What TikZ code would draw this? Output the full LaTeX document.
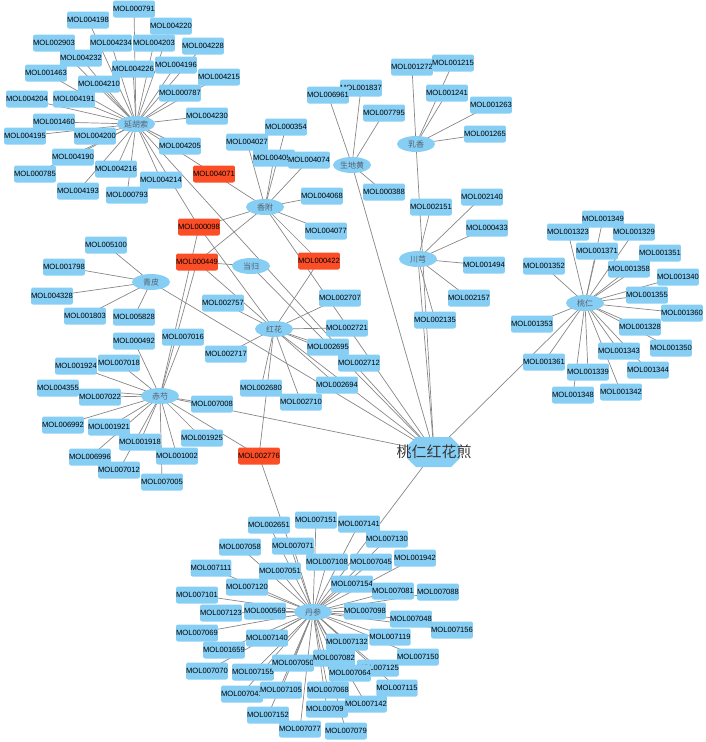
\documentclass[tikz,border=0pt]{standalone}
\usepackage{fontspec}
\setmainfont{Liberation Sans}
\newfontfamily\cjk{Noto Sans CJK SC}
\usetikzlibrary{shapes.geometric}
\definecolor{nodeblue}{RGB}{135,206,245}
\definecolor{nodered}{RGB}{252,78,38}
\definecolor{edgegray}{RGB}{135,135,135}
\definecolor{herbtext}{RGB}{85,95,105}
\pgfdeclarelayer{edgelayer}
\pgfsetlayers{edgelayer,main}
\begin{document}
\begin{tikzpicture}[x=1pt,y=-1pt,
  mol/.style={rectangle,rounded corners=2pt,fill=nodeblue,minimum width=38.5pt,minimum height=17pt,inner sep=0pt,font=\fontsize{7.6}{8}\selectfont,text=black},
  redmol/.style={mol,fill=nodered},
  herb/.style={ellipse,fill=nodeblue,minimum width=38pt,minimum height=16pt,inner sep=0pt,font=\cjk\fontsize{8}{9}\selectfont,text=herbtext},
  edge/.style={draw=edgegray,line width=0.7pt}]
\useasboundingbox (0,0) rectangle (706,742);

% herbs
\node[herb] (yhs) at (136,124) {延胡索};
\node[herb] (xf)  at (265,207) {香附};
\node[herb] (sdh) at (352,165) {生地黄};
\node[herb] (rx)  at (416,144) {乳香};
\node[herb] (cx)  at (418,259) {川芎};
\node[herb] (dg)  at (251,266) {当归};
\node[herb] (qp)  at (151,282) {青皮};
\node[herb] (hh)  at (274,329) {红花};
\node[herb] (cs)  at (160,396) {赤芍};
\node[herb] (tr)  at (585,303) {桃仁};
\node[herb] (ds)  at (313,612) {丹参};

% formula
\fill[nodeblue] (416,437) -- (451,437) -- (460,446) -- (460,458) -- (451,467) -- (416,467) -- (407,458) -- (407,446) -- cycle;
\node[inner sep=0pt,font=\cjk\fontsize{15}{16}\selectfont,text={rgb,255:red,55;green,55;blue,55}] (F) at (434,452) {桃仁红花煎};

% blue compounds
\foreach \i/\x/\y in {
  000791/134/9, 004198/88/20, 004220/171/26, 002903/54/43, 004234/111/43, 004203/154/43,
  004228/203/46, 004232/81/58, 004226/133/69, 004196/176/65, 001463/46/73, 004215/219/77,
  004210/99/84, 000787/180/93, 004204/27/99, 004191/74/99, 004230/207/116, 001460/54/122,
  004195/25/136, 004200/95/136, 004205/180/146, 004190/73/157, 004216/116/169, 000785/35/174,
  004214/161/180, 004193/78/191, 000793/127/195,
  000354/286/127, 004027/247/142}
  {\node[mol] (m\i) at (\x,\y) {MOL\i};}
\node[mol] (m00405x) at (274,158) {MOL00405\phantom{1}};
\foreach \i/\x/\y in {
  004074/309/160, 004068/322/196, 004077/326/231,
  001837/361/88, 006961/328/95, 007795/384/113, 000388/384/192,
  001272/412/67, 001215/453/63, 001241/447/93, 001263/491/105, 001265/485/134,
  002151/431/207, 002140/482/197, 000433/487/228, 001494/484/265, 002157/469/298, 002135/435/320,
  005100/106/245, 001798/64/267, 004328/52/296, 001803/85/316, 005828/134/317,
  002757/223/303, 002707/340/298, 002721/347/328, 002695/328/347, 002717/226/354,
  002712/359/363, 002680/261/388, 002694/337/385, 002710/301/402,
  000492/134/341, 007016/183/337, 001924/76/366, 007018/119/363, 004355/58/388,
  007022/100/397, 007008/212/404, 006992/63/425, 001921/109/427, 001918/140/442,
  001925/202/438, 006996/90/457, 001002/177/456, 007012/119/470, 007005/162/482,
  001349/603/219, 001323/568/232, 001329/634/232, 001371/597/251, 001351/660/253,
  001352/544/266, 001358/629/269, 001340/678/277, 001355/647/295, 001360/682/313,
  001353/532/324, 001328/640/327, 001350/671/348, 001343/619/351, 001361/544/362,
  001339/588/372, 001344/648/370, 001348/573/395, 001342/621/392,
  002651/269/525, 007151/316/520, 007058/240/547, 007071/293/546, 007111/211/568,
  007051/280/571, 007108/327/562, 007120/247/587, 007101/197/595, 007123/221/613,
  000569/265/611, 007069/197/633, 007140/267/638, 001659/224/650, 007070/207/671,
  007155/253/672, 007050/293/663, 007041/242/694, 007105/281/690, 007152/268/715,
  007077/300/729, 007141/359/524, 007130/387/539, 007045/371/562, 001942/415/558,
  007154/352/584, 007081/393/591, 007088/438/592, 007098/365/611, 007048/411/619,
  007156/452/630, 007119/390/637, 007132/347/642, 007150/418/657, 007082/334/658,
  007125/378/668, 007064/350/673, 007115/397/688, 007068/328/690}
  {\node[mol] (m\i) at (\x,\y) {MOL\i};}
\node[mol] (m00709x) at (327,709) {MOL00709\phantom{4}};
\node[mol] (m007142) at (366,704) {MOL007142};
\node[mol] (m007079) at (346,731) {MOL007079};

% shared compounds
\foreach \i/\x/\y in {004071/214/174, 000098/199/227, 000449/197/262, 000422/319/261, 002776/259/456}
  {\node[redmol] (m\i) at (\x,\y) {MOL\i};}

\begin{pgfonlayer}{edgelayer}
\foreach \i in {000791,004198,004220,002903,004234,004203,004228,004232,004226,004196,001463,004215,
  004210,000787,004204,004191,004230,001460,004195,004200,004205,004190,004216,000785,004214,004193,
  000793,004071,000098}
  \draw[edge] (yhs.center) -- (m\i.center);
\foreach \i in {000354,004027,00405x,004074,004068,004077,004071,000098,000449,000422}
  \draw[edge] (xf.center) -- (m\i.center);
\foreach \i in {006961,001837,007795,000388}
  \draw[edge] (sdh.center) -- (m\i.center);
\foreach \i in {001272,001215,001241,001263,001265}
  \draw[edge] (rx.center) -- (m\i.center);
\foreach \i in {002151,002140,000433,001494,002157,002135}
  \draw[edge] (cx.center) -- (m\i.center);
\draw[edge] (dg.center) -- (m000449.center);
\foreach \i in {005100,001798,004328,001803,005828}
  \draw[edge] (qp.center) -- (m\i.center);
\foreach \i in {002757,002707,002721,002695,002717,002712,002680,002694,002710,002776,000422,000098,000449}
  \draw[edge] (hh.center) -- (m\i.center);
\foreach \i in {000492,007016,001924,007018,004355,007022,007008,006992,001921,001918,001925,006996,
  001002,007012,007005,002776,000449,000098}
  \draw[edge] (cs.center) -- (m\i.center);
\foreach \i in {001349,001323,001329,001371,001351,001352,001358,001340,001355,001360,001353,001328,
  001350,001343,001361,001339,001344,001348,001342}
  \draw[edge] (tr.center) -- (m\i.center);
\foreach \i in {002651,007151,007058,007071,007111,007051,007108,007120,007101,007123,000569,007069,
  007140,001659,007070,007155,007050,007041,007105,007152,007077,007141,007130,007045,001942,007154,
  007081,007088,007098,007048,007156,007119,007132,007150,007082,007125,007064,007115,007068,007142,
  00709x,007079,002776}
  \draw[edge] (ds.center) -- (m\i.center);
\foreach \h in {yhs,xf,sdh,rx,cx,dg,qp,hh,cs,tr,ds}
  \draw[edge] (F.center) -- (\h.center);
\end{pgfonlayer}
\end{tikzpicture}
\end{document}
